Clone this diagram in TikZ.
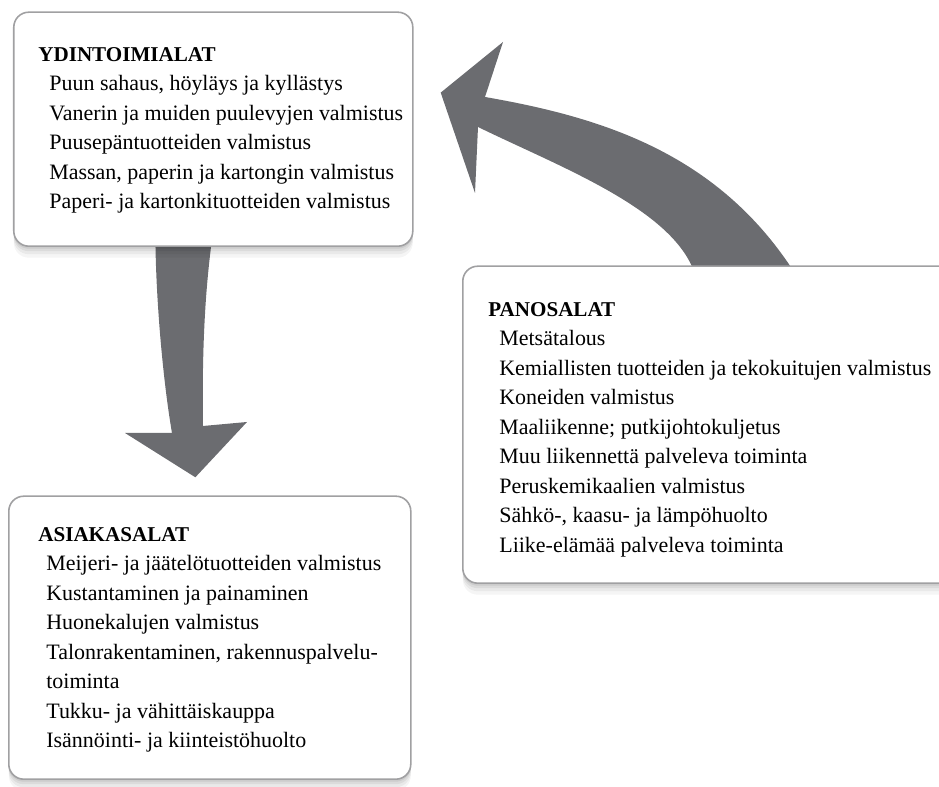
\documentclass[tikz,border=0pt]{standalone}
\usepackage{fontspec}
\setmainfont{Liberation Serif}
\usetikzlibrary{calc,shadows}

\definecolor{arrowgray}{HTML}{6B6C70}
\definecolor{framegray}{HTML}{A0A0A2}

\tikzset{
  sector/.style={draw=framegray, line width=0.9pt, rounded corners=0.3cm, fill=white,
    drop shadow={shadow xshift=0cm, shadow yshift=-0.05cm, opacity=0.07, fill=black},
    drop shadow={shadow xshift=0cm, shadow yshift=-0.10cm, opacity=0.06, fill=black},
    drop shadow={shadow xshift=0cm, shadow yshift=-0.16cm, opacity=0.05, fill=black},
    drop shadow={shadow xshift=0cm, shadow yshift=-0.23cm, opacity=0.04, fill=black}},
  heading/.style={anchor=west, inner sep=0pt, font=\fontsize{12}{15}\selectfont\bfseries},
  itemlist/.style={anchor=north west, inner sep=0pt, align=left, font=\fontsize{12.5}{16.8}\selectfont},
  flow/.style={fill=arrowgray}
}

\begin{document}
\begin{tikzpicture}
\useasboundingbox (0,0) rectangle (18.78,15.74);
\clip (0,0) rectangle (18.78,15.74);
% boxes (placed first, drawn later over the arrows)
\path (0.26,10.80) node [anchor=south west, minimum width=7.98cm, minimum height=4.68cm] (ydin) {};
\path (9.24,4.06) node [anchor=south west, minimum width=10.3cm, minimum height=6.34cm] (panos) {};
\path (0.16,0.14) node [anchor=south west, minimum width=8.04cm, minimum height=5.66cm] (asiakas) {};
% arrows
\coordinate (aBaseL) at ($(panos.north west)+(4.62,-0.05)$);
\coordinate (aBaseR) at ($(panos.north west)+(6.60,-0.05)$);
\coordinate (aTip) at ($(ydin.east)+(0.56,0.74)$);
\fill [flow] (aBaseR) .. controls (14.3,12.7) and (12.0,13.4) .. (9.70,13.80) -- (10.06,14.90) -- (aTip)
  -- (9.50,11.88) -- (9.56,13.20) .. controls (11.18,12.41) and (13.35,11.60) .. (aBaseL) -- cycle;
\coordinate (bBaseL) at ($(ydin.south)+(-1.15,0.2)$);
\coordinate (bBaseR) at ($(ydin.south)+(-0.01,0.2)$);
\coordinate (bTip) at ($(asiakas.north)+(-0.28,0.38)$);
\fill [flow] (bBaseL) .. controls (3.12,9.6) and (3.28,8.0) .. (3.44,7.08) -- (2.50,7.08) -- (bTip)
  -- (4.94,7.30) -- (4.06,7.22) .. controls (4.04,8.5) and (4.08,9.8) .. (bBaseR) -- cycle;
% frames
\node [sector, anchor=south west, minimum width=7.98cm, minimum height=4.68cm] at (ydin.south west) {};
\node [sector, anchor=south west, minimum width=10.3cm, minimum height=6.34cm] at (panos.south west) {};
\node [sector, anchor=south west, minimum width=8.04cm, minimum height=5.66cm] at (asiakas.south west) {};
% ydintoimialat
\node [heading] (ydinTitle) at (0.76,14.64) {YDINTOIMIALAT};
\node [itemlist] (ydinList) at (0.98,14.24) {Puun sahaus, höyläys ja kyllästys\\
  Vanerin ja muiden puulevyjen valmistus\\ Puusepäntuotteiden valmistus\\
  Massan, paperin ja kartongin valmistus\\ Paperi- ja kartonkituotteiden valmistus};
% panosalat
\node [heading] (panosTitle) at (9.76,9.54) {PANOSALAT};
\node [itemlist] (panosList) at (9.98,9.14) {Metsätalous\\
  Kemiallisten tuotteiden ja tekokuitujen valmistus\\ Koneiden valmistus\\
  Maaliikenne; putkijohtokuljetus\\ Muu liikennettä palveleva toiminta\\
  Peruskemikaalien valmistus\\ Sähkö-, kaasu- ja lämpöhuolto\\ Liike-elämää palveleva toiminta};
% asiakasalat
\node [heading] (asiakasTitle) at (0.76,5.04) {ASIAKASALAT};
\node [itemlist] (asiakasList) at (0.92,4.64) {Meijeri- ja jäätelötuotteiden valmistus\\
  Kustantaminen ja painaminen\\ Huonekalujen valmistus\\
  Talonrakentaminen, rakennuspalvelu-\\ toiminta\\
  Tukku- ja vähittäiskauppa\\ Isännöinti- ja kiinteistöhuolto};
\end{tikzpicture}
\end{document}
